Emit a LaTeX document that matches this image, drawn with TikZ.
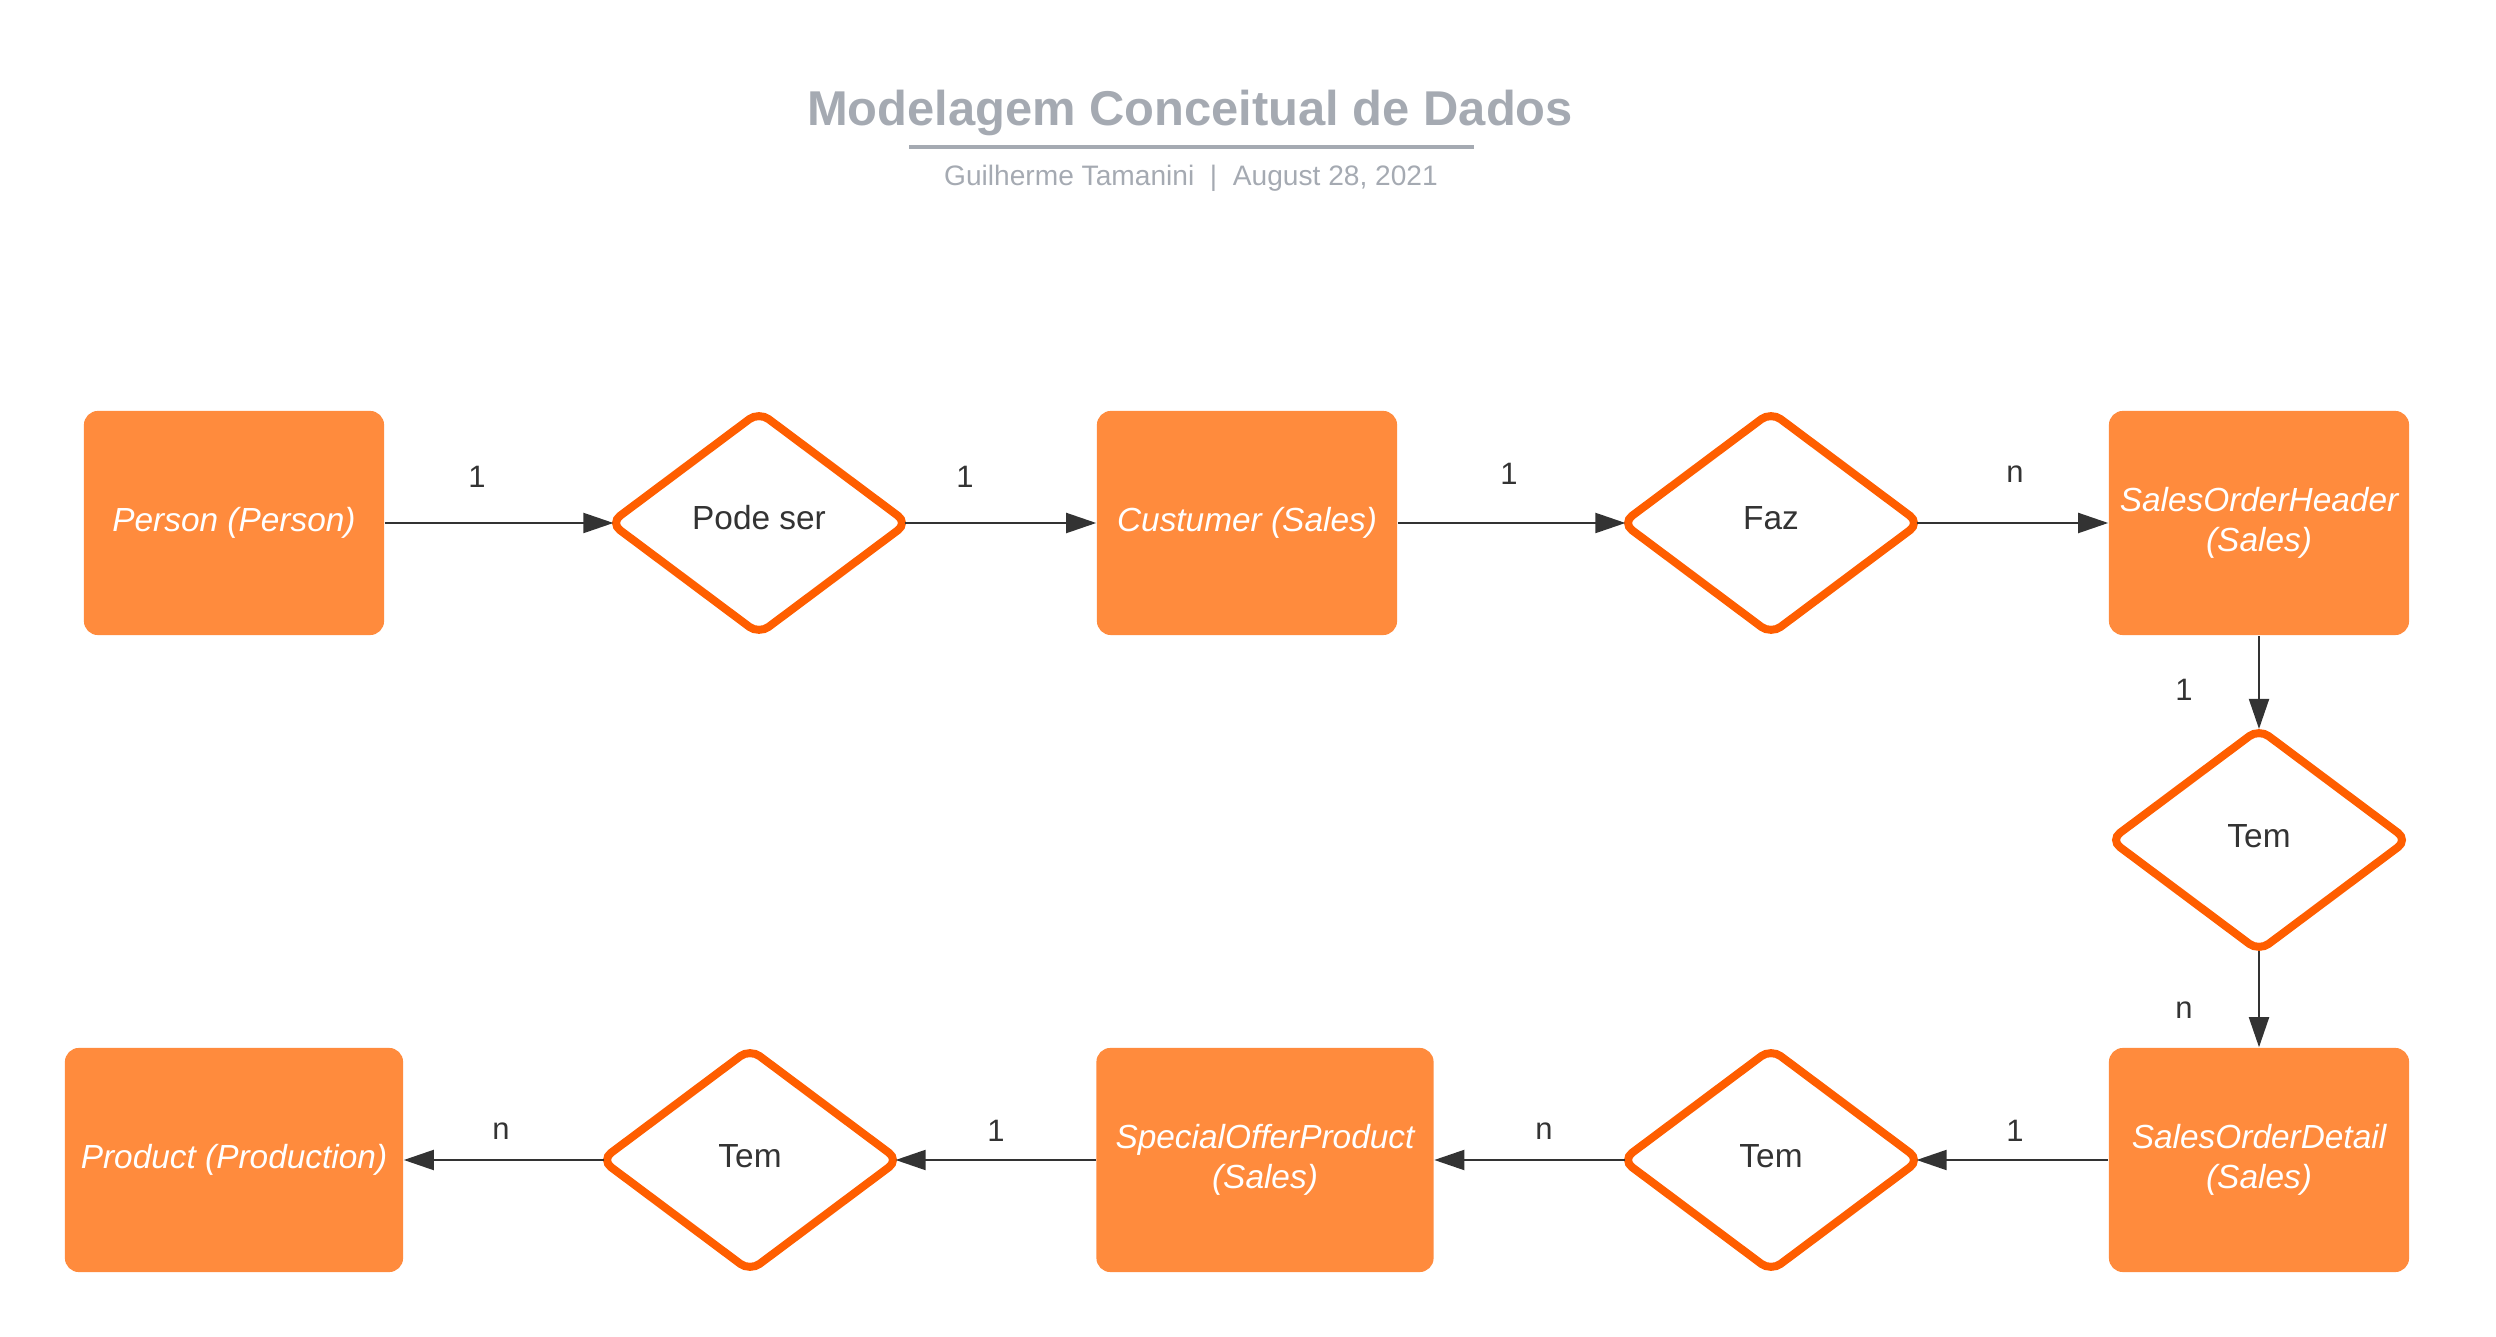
\documentclass[tikz,border=0pt]{standalone}
\usepackage{fontspec}
\setmainfont{Liberation Sans}
\usetikzlibrary{shapes.geometric,arrows.meta}
\definecolor{boxfill}{HTML}{FF8B3D}
\definecolor{dstroke}{HTML}{FF5E00}
\definecolor{ink}{HTML}{333333}
\definecolor{titlegray}{HTML}{A5AAB2}
\tikzset{
 entity/.style={rectangle, rounded corners=0.14cm, fill=boxfill, minimum height=2.24cm, minimum width=3.0cm, text=white, font=\fontsize{9.5}{11.4}\selectfont\itshape, align=center, inner sep=0},
 rel/.style={diamond, draw=dstroke, line width=0.08cm, rounded corners=0.12cm, fill=white, minimum width=2.97cm, minimum height=2.22cm, inner sep=0, outer sep=0, text=ink, text height=0.24cm, text depth=0.10cm, font=\fontsize{9.5}{11.4}\selectfont},
 conn/.style={draw=ink, line width=0.02cm, -{Triangle[length=0.3cm,width=0.2cm]}},
 todia/.style={shorten >=-0.03cm},
 fromdia/.style={shorten <=-0.03cm},
 card/.style={text=ink, font=\fontsize{8.8}{10}\selectfont},
}
\begin{document}
\begin{tikzpicture}[x=0.01cm,y=-0.01cm]
\useasboundingbox (0,0) rectangle (2496,1337);
% title
\node[font=\fontsize{13.9}{16}\selectfont\bfseries, text=titlegray] (title) at (1190,113) {Modelagem Conceitual de Dados};
\coordinate (ulA) at (909,147);
\coordinate (ulB) at (1474,147);
\draw[titlegray, line width=0.04cm] (ulA) -- (ulB);
\node[font=\fontsize{8}{10}\selectfont, text=titlegray] (sub) at (1191,178) {Guilherme Tamanini~~|~~August 28, 2021};
% entities
\node[entity] (person) at (234,523) {Person (Person)};
\node[entity] (cust) at (1247,523) {Custumer (Sales)};
\node[entity] (soh) at (2259,523) {SalesOrderHeader\\(Sales)};
\node[entity] (sod) at (2259,1160) {SalesOrderDetail\\(Sales)};
\node[entity, minimum width=3.37cm] (sop) at (1265,1160) {SpecialOfferProduct\\(Sales)};
\node[entity, minimum width=3.38cm] (prod) at (234,1160) {Product (Production)};
% relationships
\node[rel] (pode) at (759,523) {Pode ser};
\node[rel] (faz) at (1771,523) {Faz};
\node[rel] (tem1) at (2259,840) {Tem};
\node[rel] (tem2) at (1771,1160) {Tem};
\node[rel] (tem3) at (750,1160) {Tem};
% connectors
\draw[conn,todia] (person.east) -- (pode.west);
\draw[conn,fromdia] (pode.east) -- (cust.west);
\draw[conn,todia] (cust.east) -- (faz.west);
\draw[conn,fromdia] (faz.east) -- (soh.west);
\draw[conn] (soh.south) -- (tem1.north);
\draw[conn] (tem1.south) -- (sod.north);
\draw[conn,todia] (sod.west) -- (tem2.east);
\draw[conn,fromdia] (tem2.west) -- (sop.east);
\draw[conn,todia] (sop.west) -- (tem3.east);
\draw[conn,fromdia] (tem3.west) -- (prod.east);
% cardinalities
\node[card] (c1) at (477,477) {1};
\node[card] (c2) at (965,477) {1};
\node[card] (c3) at (1509,474) {1};
\node[card] (c4) at (2015,474) {n};
\node[card] (c5) at (2184,690) {1};
\node[card] (c6) at (2184,1010) {n};
\node[card] (c7) at (2015,1131) {1};
\node[card] (c8) at (1544,1131) {n};
\node[card] (c9) at (996,1131) {1};
\node[card] (c10) at (501,1131) {n};
\end{tikzpicture}
\end{document}
